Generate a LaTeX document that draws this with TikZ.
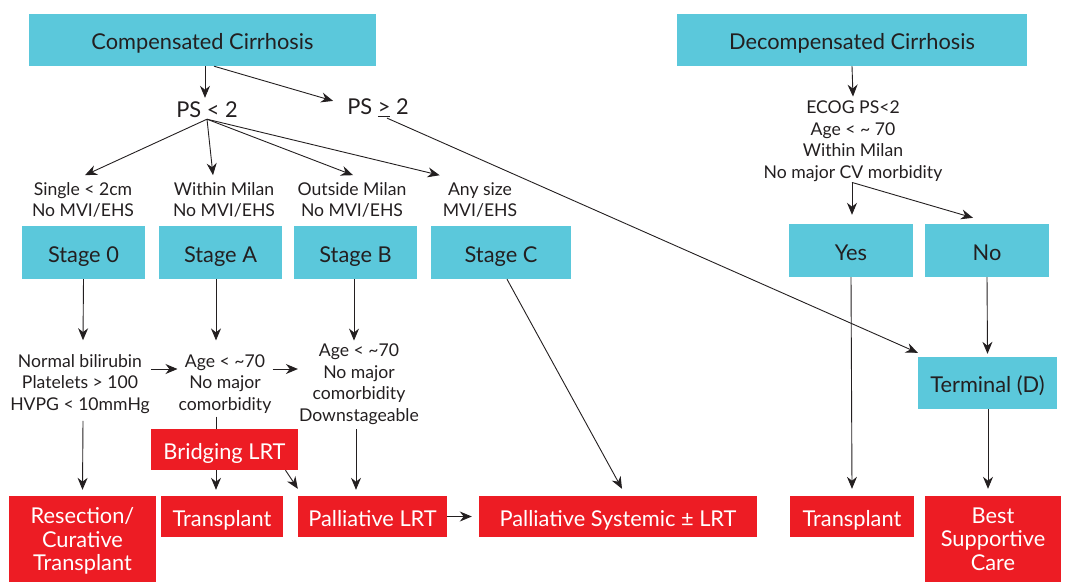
\documentclass[tikz,border=0pt]{standalone}
\usepackage{fontspec}
\setmainfont{Lato}
\usetikzlibrary{arrows.meta}
\definecolor{cy}{HTML}{5BC8DB}
\definecolor{rd}{HTML}{ED1C24}
\definecolor{txt}{HTML}{231F20}
\begin{document}
\begin{tikzpicture}[x=1pt,y=-1pt,
  one/.style={text height=21pt, text depth=2pt},
  multi/.style={text depth=-3pt},
  cbox/.style={fill=cy, text=txt, inner sep=0pt, align=center, font=\fontsize{21.8}{24}\selectfont},
  rbox/.style={fill=rd, text=white, inner sep=0pt, align=center, font=\fontsize{21.8}{23.5}\selectfont},
  lab/.style={text=txt, inner sep=1pt, align=center, font=\fontsize{17.6}{21.5}\selectfont},
  big/.style={text=txt, inner sep=1pt, font=\fontsize{21.8}{24}\selectfont},
  arr/.style={draw=txt, line width=0.9pt, -{Stealth[length=12pt,width=10pt]}}]
\useasboundingbox (0,0) rectangle (1075,582);

% top boxes
\node[cbox, one, minimum width=347pt, minimum height=52pt] (comp) at (202.5,40) {Compensated Cirrhosis};
\node[cbox, one, minimum width=350pt, minimum height=52pt] (decomp) at (852,40) {Decompensated Cirrhosis};

\node[big] (ps1) at (207,110) {PS < 2};
\node[big] (ps2) at (378,108) {PS \underline{>} 2};

% stage labels
\node[lab] (l0) at (83,200) {Single < 2cm\\No MVI/EHS};
\node[lab] (lA) at (224,200) {Within Milan\\No MVI/EHS};
\node[lab] (lB) at (352,200) {Outside Milan\\No MVI/EHS};
\node[lab] (lC) at (480,200) {Any size\\MVI/EHS};

% stage boxes
\node[cbox, one, minimum width=123pt, minimum height=53pt] (s0) at (83.5,252.5) {Stage 0};
\node[cbox, one, minimum width=123pt, minimum height=53pt] (sA) at (220.5,252.5) {Stage A};
\node[cbox, one, minimum width=123pt, minimum height=53pt] (sB) at (355.5,252.5) {Stage B};
\node[cbox, one, minimum width=140pt, minimum height=53pt] (sC) at (501,252.5) {Stage C};

% decompensated branch
\node[lab] (ecog) at (853,141) {ECOG PS<2\\Age < \textasciitilde{} 70\\Within Milan\\No major CV morbidity};
\node[cbox, one, minimum width=124pt, minimum height=53pt] (yes) at (851,250.5) {Yes};
\node[cbox, one, minimum width=124pt, minimum height=53pt] (no) at (987,250.5) {No};
\node[cbox, one, minimum width=139pt, minimum height=52pt] (term) at (987.5,383) {Terminal (D)};

% middle texts
\node[lab] (n0) at (80,384) {Normal bilirubin\\Platelets > 100\\HVPG < 10mmHg};
\node[lab] (nA) at (225,384) {Age < \textasciitilde70\\No major\\comorbidity};
\node[lab] (nB) at (359,384) {Age < \textasciitilde70\\No major\\comorbidity\\Downstageable};

% bottom boxes
\node[rbox, multi, minimum width=147pt, minimum height=86pt] (res) at (82.5,539) {Resection/\\Curative\\Transplant};
\node[rbox, one, minimum width=122pt, minimum height=41pt] (tr1) at (222,516.5) {Transplant};
\node[rbox, one, minimum width=149pt, minimum height=41pt] (plrt) at (372.5,516.5) {Palliative LRT};
\node[rbox, one, minimum width=278pt, minimum height=41pt] (psys) at (618,516.5) {Palliative Systemic ± LRT};
\node[rbox, one, minimum width=124pt, minimum height=41pt] (tr2) at (852,516.5) {Transplant};
\node[rbox, multi, minimum width=136pt, minimum height=86pt] (bsc) at (993,539) {Best\\Supportive\\Care};

% arrows top
\draw[arr] ([xshift=2.5pt]comp.south) -- ([xshift=-2pt,yshift=3pt]ps1.north);
\draw[arr] ([xshift=11.5pt]comp.south) -- ([xshift=-13pt,yshift=-3pt]ps2.north west);
\draw[arr] (ps1.south) -- ([xshift=2pt,yshift=6pt]l0.north);
\draw[arr] (ps1.south) -- ([xshift=-11pt,yshift=6pt]lA.north);
\draw[arr] (ps1.south) -- ([xshift=1pt,yshift=6pt]lB.north);
\draw[arr] (ps1.south) -- ([xshift=-2pt,yshift=6pt]lC.north west);
\draw[arr] ([xshift=9pt]ps2.south) -- ([yshift=4pt]term.north west);

\draw[arr] (decomp.south) -- ([yshift=3pt]ecog.north);
\draw[arr] ([xshift=-1pt]ecog.south) -- ([xshift=1pt,yshift=9pt]yes.north);
\draw[arr] ([xshift=-1pt]ecog.south) -- ([xshift=-14pt,yshift=6pt]no.north);
\draw[arr] (yes.south) -- ([yshift=7pt]tr2.north);
\draw[arr] (no.south) -- ([yshift=3pt]term.north);
\draw[arr] ([xshift=0.5pt]term.south) -- ([xshift=-5pt,yshift=7pt]bsc.north);

% stage arrows
\draw[arr] (s0.south) -- ([xshift=3pt,yshift=13pt]n0.north);
\draw[arr] ([xshift=-4.5pt]sA.south) -- ([xshift=-9pt,yshift=13pt]nA.north);
\draw[arr] ([xshift=-1.5pt]sB.south) -- ([xshift=-5pt,yshift=2pt]nB.north);
\draw[arr] ([xshift=6pt]sC.south) -- ([xshift=4pt,yshift=7pt]psys.north);

\draw[arr] ([yshift=15pt]n0.east) -- ([yshift=15pt]nA.west);
\draw[arr] ([yshift=15pt]nA.east) -- ([yshift=15pt]nB.west);

\draw[arr] ([xshift=3pt,yshift=-6pt]n0.south) -- ([yshift=6pt]res.north);
\draw[arr] ([xshift=-9pt,yshift=-2pt]nA.south) -- ([xshift=-6pt,yshift=6pt]tr1.north);
\draw[arr] ([xshift=-3pt,yshift=-4pt]nB.south) -- ([xshift=-16.5pt,yshift=6pt]plrt.north);
\draw[arr] (plrt.east) -- ([xshift=-7pt]psys.west);

% bridging box over the line
\node[rbox, one, minimum width=147pt, minimum height=41pt] (bridge) at (224.5,449.5) {Bridging LRT};
\draw[arr] ([xshift=61pt]bridge.south) -- ([yshift=7pt]plrt.north west);
\end{tikzpicture}
\end{document}
